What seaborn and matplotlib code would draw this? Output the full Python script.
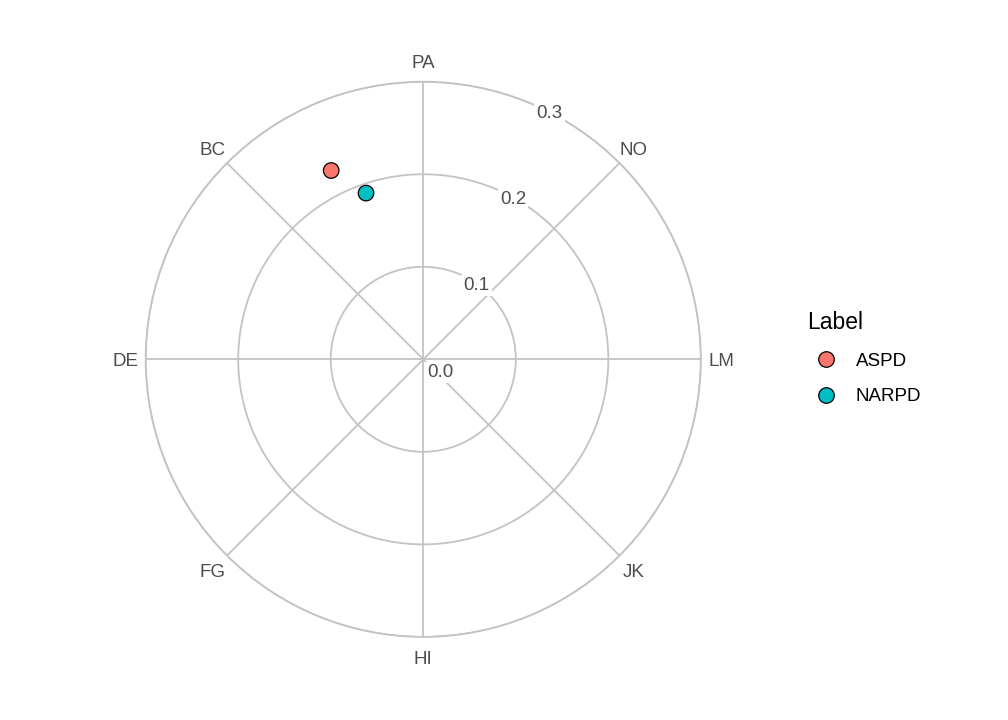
import seaborn as sns
import matplotlib.pyplot as plt
import numpy as np
import pandas as pd

# data
labels = ['ASPD', 'NARPD']
amplitude = [0.227, 0.190]
displacement = [116, 109]  # degrees

scales = ['LM', 'NO', 'PA', 'BC', 'DE', 'FG', 'HI', 'JK']
scale_angles = [0, 45, 90, 135, 180, 225, 270, 315]

ring_values = [0.1, 0.2, 0.3]
ring_label_angles = [55, 61, 63]

colors = ['#F8766D', '#00BFC4']
grid_col = '#C3C3C3'
text_col = '#4D4D4D'

sns.set_theme(style='white')
plt.rcParams['font.family'] = ['Liberation Sans', 'DejaVu Sans']

df = pd.DataFrame({'Label': labels,
                   'theta': np.deg2rad(displacement),
                   'amp': amplitude})

fig = plt.figure(figsize=(10.08, 7.2), dpi=100)
ax = fig.add_axes([0.1445, 0.1154, 0.5508, 0.7711], projection='polar')

ax.set_ylim(0, 0.3)
ax.set_yticks(ring_values)
ax.set_xticks(np.deg2rad(scale_angles))
ax.set_yticklabels([])
ax.set_xticklabels([])
ax.grid(True, color=grid_col, linewidth=1.3)
ax.spines['polar'].set_color(grid_col)
ax.spines['polar'].set_linewidth(1.3)
ax.tick_params(length=0, pad=0)
ax.set_facecolor('white')

sns.scatterplot(data=df, x='theta', y='amp', hue='Label', palette=colors,
                s=125, edgecolor='black', linewidth=0.9, ax=ax, zorder=5,
                clip_on=False)
ax.set_xlabel('')
ax.set_ylabel('')

# scale labels around the circle
for name, ang in zip(scales, scale_angles):
    ax.text(np.deg2rad(ang), 0.322, name, ha='center', va='center_baseline',
            fontsize=13.5, color=text_col, clip_on=False)

# ring labels with white background breaking the circles
for val, ang in zip(ring_values, ring_label_angles):
    ax.text(np.deg2rad(ang), val, f'{val:.1f}', ha='center',
            va='center_baseline', fontsize=13.5, color=text_col, zorder=4,
            bbox=dict(boxstyle='square,pad=0.12', fc='white', ec='none'))
ax.annotate('0.0', xy=(0, 0), xytext=(3, -8), textcoords='offset points',
            ha='left', va='center_baseline', fontsize=13.5, color=text_col,
            zorder=4,
            bbox=dict(boxstyle='square,pad=0.12', fc='white', ec='none'))

handles, lbls = ax.get_legend_handles_labels()
leg = ax.legend(handles, lbls, title='Label', frameon=False,
                loc='upper left', bbox_to_anchor=(0.784, 0.592),
                bbox_transform=fig.transFigure,
                fontsize=13.5, title_fontsize=16.5, markerscale=1.0,
                handletextpad=0.6, labelspacing=1.0, alignment='left')
leg.get_title().set_color('black')
for t in leg.get_texts():
    t.set_color('black')

fig.savefig('out.png', dpi=100, facecolor='white')
